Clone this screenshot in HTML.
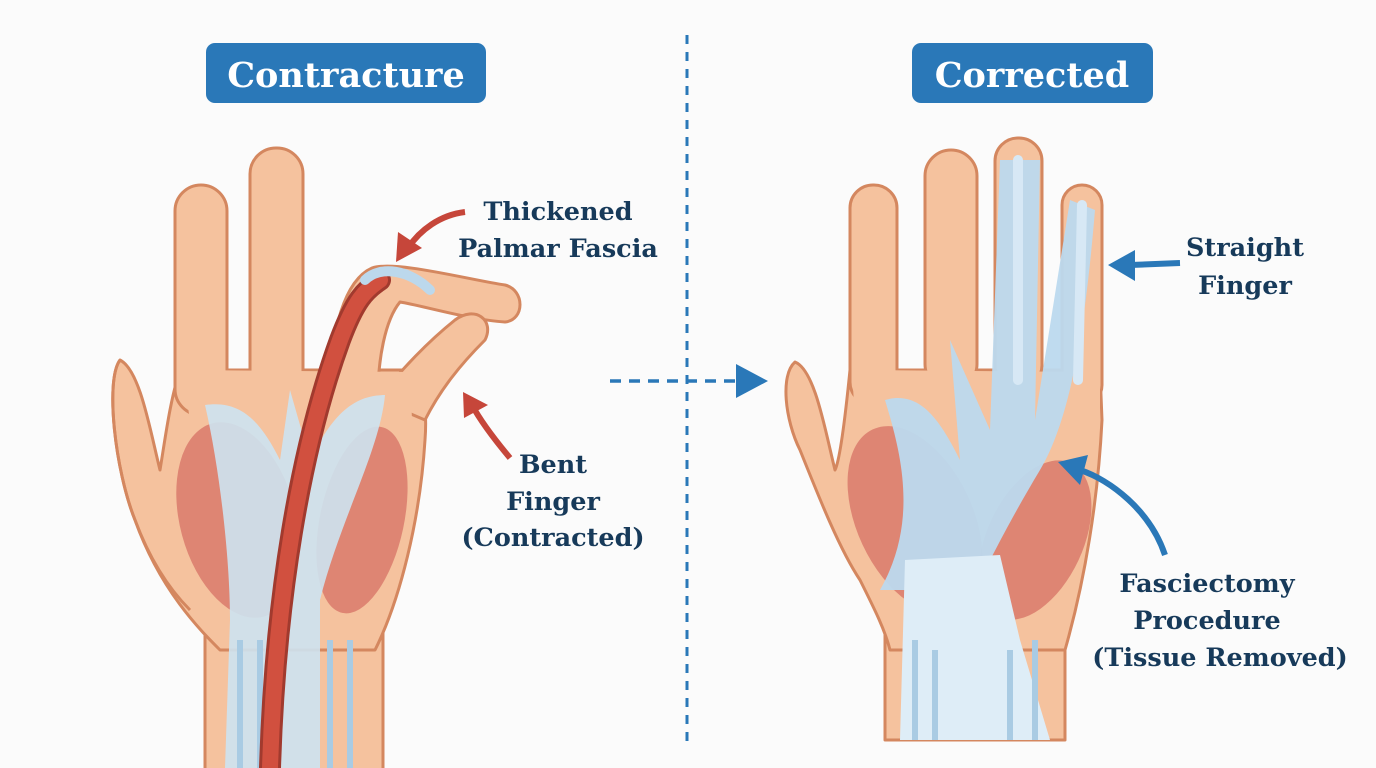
<!DOCTYPE html>
<html><head><meta charset="utf-8"><style>
html,body{margin:0;padding:0;background:#fbfbfb;}
svg{display:block}
.lbl{font-family:"DejaVu Serif","Liberation Serif",serif;font-weight:bold;fill:#173a5a;font-size:25.5px;text-anchor:middle}
.ttl{font-family:"DejaVu Serif","Liberation Serif",serif;font-weight:bold;fill:#fff;font-size:35px;text-anchor:middle}
</style></head><body>
<svg width="1376" height="768" viewBox="0 0 1376 768" xmlns="http://www.w3.org/2000/svg">
<rect width="1376" height="768" fill="#fbfbfb"/>
<!-- titles -->
<rect x="206" y="43" width="280" height="60" rx="9" fill="#2a78b8"/>
<text x="346" y="87" class="ttl">Contracture</text>
<rect x="912" y="43" width="241" height="60" rx="9" fill="#2a78b8"/>
<text x="1032" y="87" class="ttl">Corrected</text>
<!-- divider -->
<line x1="687" y1="35" x2="687" y2="742" stroke="#2a78b8" stroke-width="3" stroke-dasharray="9,8"/>
<line x1="610" y1="381" x2="740" y2="381" stroke="#2a78b8" stroke-width="3.5" stroke-dasharray="11,8"/>
<polygon points="736,364 768,381 736,398" fill="#2a78b8"/>

<!-- LEFT HAND -->
<g stroke="#d4875f" stroke-width="3" fill="#f5c29e" stroke-linejoin="round">
  <rect x="205" y="590" width="178" height="190" fill="#f5c29e"/>
  <path d="M120,360 C105,380 115,470 135,520 C160,590 200,630 220,650 L375,650 C400,600 420,520 425,440 C428,400 420,380 410,370 L180,370 C170,400 165,440 160,470 C150,430 140,370 120,360 Z"/>
  <rect x="175" y="185" width="52" height="230" rx="26"/>
  <rect x="250" y="148" width="53" height="255" rx="26"/>
  <path d="M330,395 C330,330 345,280 372,268 C395,260 470,280 505,285 C525,290 525,320 505,322 C470,320 420,305 400,302 C385,320 378,360 378,395 Z"/>
  <path d="M378,400 C400,370 430,340 455,320 C475,305 495,320 485,340 C460,365 440,390 425,420 Z"/>
</g>
<path d="M182,370 L410,372 L412,420 L190,420 Z" fill="#f5c29e"/>
<path d="M120,360 C105,380 115,470 135,520 C150,560 170,590 190,610" fill="none" stroke="#d4875f" stroke-width="3"/>
<ellipse cx="238" cy="520" rx="58" ry="100" fill="#d97a6b" opacity="0.85" transform="rotate(-15 238 520)"/>
<ellipse cx="362" cy="520" rx="42" ry="95" fill="#d97a6b" opacity="0.85" transform="rotate(12 362 520)"/>
<path d="M205,405 C240,400 260,420 280,460 L290,390 L310,460 C330,420 350,395 385,395 C380,450 340,520 320,600 L320,768 L225,768 L230,620 C230,560 220,470 205,405 Z" fill="#cde3f1" opacity="0.9"/>
<path d="M240,640 L240,768 M260,640 L260,768 M330,640 L330,768 M350,640 L350,768" stroke="#a9cbe3" stroke-width="6"/>
<path d="M270,768 C275,600 300,450 340,340 C355,300 365,290 380,280" fill="none" stroke="#a13a2e" stroke-width="22" stroke-linecap="round"/>
<path d="M270,768 C275,600 300,450 340,340 C355,300 365,290 380,280" fill="none" stroke="#d1503f" stroke-width="16" stroke-linecap="round"/>
<path d="M365,280 C380,265 410,270 430,290" fill="none" stroke="#bcd8ec" stroke-width="10" stroke-linecap="round"/>

<!-- RIGHT HAND -->
<g stroke="#d4875f" stroke-width="3" fill="#f5c29e" stroke-linejoin="round">
  <rect x="885" y="590" width="180" height="150"/>
  <path d="M795,362 C780,375 785,420 800,450 C820,500 840,550 860,580 C875,610 885,630 890,650 L1065,650 C1085,580 1098,500 1102,420 L1100,370 L850,370 C845,420 840,460 835,470 C825,430 815,370 795,362 Z"/>
  <rect x="850" y="185" width="47" height="220" rx="23"/>
  <rect x="925" y="150" width="52" height="240" rx="26"/>
  <rect x="995" y="138" width="47" height="250" rx="23"/>
  <rect x="1062" y="185" width="40" height="220" rx="20"/>
</g>
<path d="M852,370 L1100,372 L1100,420 L855,420 Z" fill="#f5c29e"/>
<ellipse cx="915" cy="520" rx="58" ry="100" fill="#d97a6b" opacity="0.85" transform="rotate(-25 915 520)"/>
<ellipse cx="1035" cy="540" rx="48" ry="85" fill="#d97a6b" opacity="0.85" transform="rotate(25 1035 540)"/>
<path d="M885,400 C920,390 940,420 960,460 L950,340 L990,430 L1000,160 L1040,160 L1035,420 L1070,200 L1095,210 C1085,330 1070,420 1040,470 C1010,520 990,560 975,590 L880,590 C920,520 900,450 885,400 Z" fill="#bcd9ee" opacity="0.95"/>
<path d="M905,560 L1000,555 L1020,640 L1050,740 L900,740 Z" fill="#deedf7"/>
<path d="M915,640 L915,740 M935,650 L935,740 M1010,650 L1010,740 M1035,640 L1035,740" stroke="#a9cbe3" stroke-width="6"/>
<path d="M1018,160 L1018,380 M1082,205 L1078,380" stroke="#d7e8f5" stroke-width="10" stroke-linecap="round"/>

<!-- arrows -->
<path d="M465,212 C440,215 420,230 408,248" fill="none" stroke="#c6463a" stroke-width="6"/>
<polygon points="396,262 398,232 422,248" fill="#c6463a"/>
<path d="M510,458 C495,440 480,420 472,405" fill="none" stroke="#c6463a" stroke-width="6"/>
<polygon points="463,392 488,405 464,418" fill="#c6463a"/>
<path d="M1180,263 L1130,265" stroke="#2a78b8" stroke-width="6"/>
<polygon points="1108,265 1135,250 1135,281" fill="#2a78b8"/>
<path d="M1165,555 C1150,510 1110,480 1080,470" fill="none" stroke="#2a78b8" stroke-width="6"/>
<polygon points="1058,462 1088,455 1080,485" fill="#2a78b8"/>

<!-- labels -->
<text x="558" y="220" class="lbl">Thickened</text>
<text x="558" y="257" class="lbl">Palmar Fascia</text>
<text x="553" y="473" class="lbl">Bent</text>
<text x="553" y="510" class="lbl">Finger</text>
<text x="553" y="546" class="lbl">(Contracted)</text>
<text x="1245" y="256" class="lbl">Straight</text>
<text x="1245" y="294" class="lbl">Finger</text>
<text x="1207" y="592" class="lbl">Fasciectomy</text>
<text x="1207" y="629" class="lbl">Procedure</text>
<text x="1220" y="666" class="lbl">(Tissue Removed)</text>
</svg>
</body></html>
